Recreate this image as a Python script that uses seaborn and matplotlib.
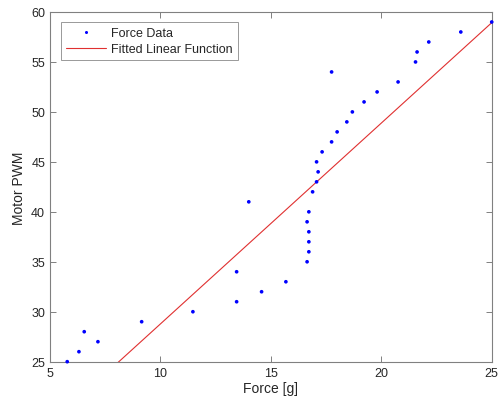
import numpy as np
import pandas as pd
import seaborn as sns
import matplotlib.pyplot as plt
from matplotlib.lines import Line2D

# Measured thrust (force) for each motor PWM step
pwm = list(range(25, 60))
force = [5.78, 6.31, 7.17, 6.55, 9.15, 11.47, 13.45, 14.58, 15.68, 13.45,
         16.64, 16.72, 16.72, 16.72, 16.64, 16.72, 14.0, 16.89, 17.07, 17.14,
         17.07, 17.32, 17.75, 18.0, 18.44, 18.69, 19.22, 19.81, 20.76, 17.75,
         21.55, 21.62, 22.15, 23.6, 25.0]

# Coefficients of the fitted linear function (PWM = slope * force + intercept)
fit_slope = 2.01
fit_intercept = 8.68

data = pd.DataFrame({'Force': force, 'PWM': pwm})
fx = np.linspace(min(force), max(force), 50)
fit = pd.DataFrame({'Force': fx, 'PWM': fit_slope * fx + fit_intercept})

sns.set_style("white")
plt.rcParams['font.family'] = ['Liberation Sans', 'DejaVu Sans']

fig = plt.figure(figsize=(4.98, 4.06), dpi=100)
ax = fig.add_axes([0.1004, 0.1067, 0.887, 0.8613])

sns.lineplot(data=fit, x='Force', y='PWM', color='#e03030', linewidth=0.8, ax=ax)
sns.scatterplot(data=data, x='Force', y='PWM', color='#0000ff', s=7,
                edgecolor='none', ax=ax, clip_on=False, zorder=3)

ax.set_xlim(5, 25)
ax.set_ylim(25, 60)
ax.set_xticks([5, 10, 15, 20, 25])
ax.set_yticks(range(25, 61, 5))
ax.set_xlabel('Force [g]', fontsize=10, color='#262626', labelpad=2)
ax.set_ylabel('Motor PWM', fontsize=10, color='#262626', labelpad=4)

for sp in ax.spines.values():
    sp.set_color('#808080')
    sp.set_linewidth(0.8)
ax.tick_params(direction='in', length=4, width=0.7, color='#808080',
               labelsize=9, labelcolor='#262626',
               top=True, right=True, bottom=True, left=True)

handles = [Line2D([], [], marker='o', linestyle='none', color='#0000ff',
                  markersize=2.2, markeredgewidth=0),
           Line2D([], [], color='#e03030', linewidth=0.8)]
leg = ax.legend(handles, ['Force Data', 'Fitted Linear Function'],
                loc='upper left', bbox_to_anchor=(0.025, 0.971),
                fontsize=9, frameon=True, fancybox=False,
                handlelength=3.2, handletextpad=0.4, borderpad=0.4,
                labelspacing=0.3, borderaxespad=0)
leg.get_frame().set_edgecolor('#808080')
leg.get_frame().set_linewidth(0.7)

fig.savefig('out.png', dpi=100)
